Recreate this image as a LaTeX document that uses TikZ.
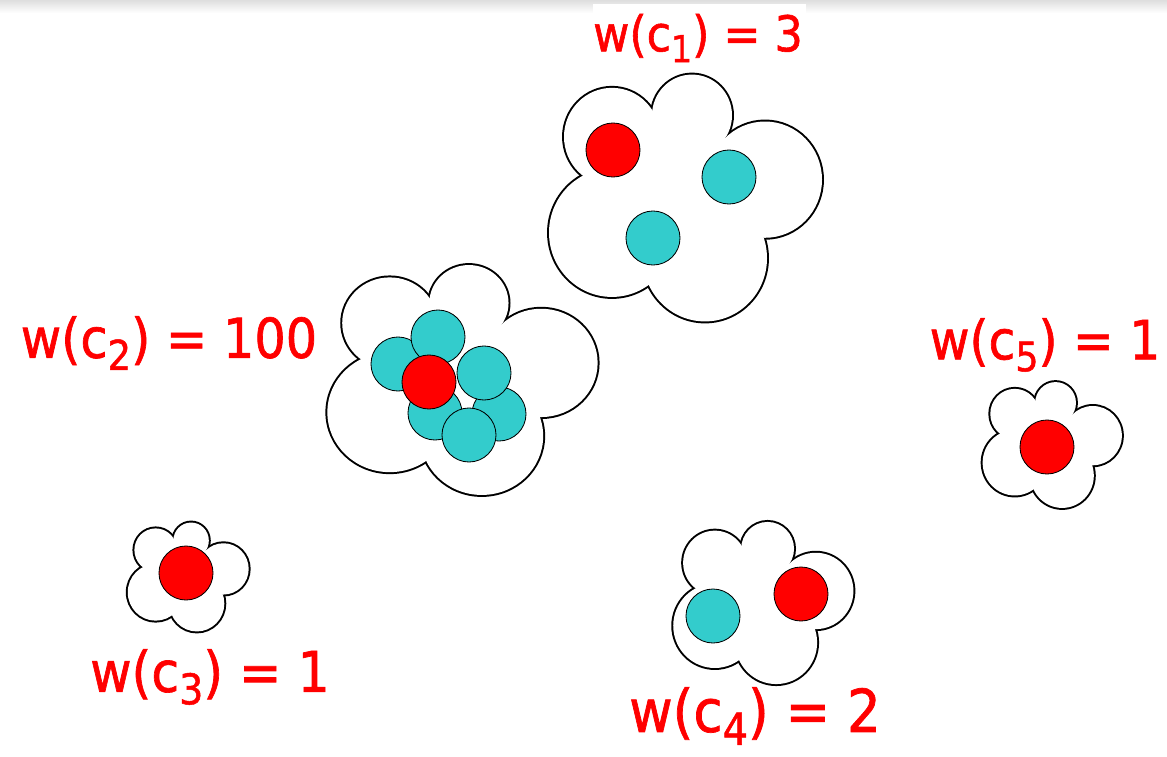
\documentclass[tikz,border=0pt]{standalone}
\usepackage{fontspec}
\setmainfont{DejaVu Sans Condensed}[FakeBold=1.2]
\usepackage{graphicx}
\usepackage{tikz}
\definecolor{dotred}{RGB}{255,0,0}
\definecolor{dotcyan}{RGB}{51,204,204}
\newcommand{\csub}[1]{\raisebox{-0.22em}{\scalebox{0.75}{#1}}}

\tikzset{
  pics/cloud/.style={code={
    \foreach \cx/\cy/\r in {7/-81/40,80/-18/57,20/59/62,-73/34/63,-73/-60/48}
      \draw[line width=2.8pt] (\cx,\cy) circle (\r);
    \foreach \cx/\cy/\r in {7/-81/40,80/-18/57,20/59/62,-73/34/63,-73/-60/48,0/0/70}
      \fill[white] (\cx,\cy) circle (\r);
  }}
}

\begin{document}
\begin{tikzpicture}[x=0.025cm, y=-0.025cm,
    dot/.style={circle, draw, line width=0.6pt, inner sep=0pt, minimum size=1.35cm},
    red dot/.style={dot, fill=dotred},
    cyan dot/.style={dot, fill=dotcyan},
    wlabel/.style={text=dotred, inner sep=0pt}]
    \useasboundingbox (0,0) rectangle (1167,757);
    \shade[top color=black!13, bottom color=white] (0,0) rectangle (1167,13);

    \pic[xscale=1.0, yscale=1.02] at (685,198) {cloud};
    \pic[xscale=0.99, yscale=0.95] at (462,380) {cloud};
    \pic[xscale=0.443, yscale=0.45] at (188,577) {cloud};
    \pic[xscale=0.66, yscale=0.67] at (763,603) {cloud};
    \pic[xscale=0.51, yscale=0.52] at (1052,445) {cloud};

    \node[red dot] (c1r) at (613,150) {};
    \node[cyan dot] (c1a) at (729,177) {};
    \node[cyan dot] (c1b) at (653,238) {};

    \node[cyan dot] (c2a) at (499,414) {};
    \node[cyan dot] (c2b) at (484,373) {};
    \node[cyan dot] (c2c) at (435,413) {};
    \node[cyan dot] (c2d) at (469,435) {};
    \node[cyan dot] (c2e) at (398,364) {};
    \node[cyan dot] (c2f) at (438,337) {};
    \node[red dot] (c2r) at (429,382) {};

    \node[red dot] (c3r) at (186,573) {};

    \node[cyan dot] (c4a) at (713,616) {};
    \node[red dot] (c4r) at (801,594) {};

    \node[red dot] (c5r) at (1047,447) {};

    \fill[white] (593,4) rectangle (806,40);
    \node[wlabel, font=\fontsize{35}{42}\selectfont] (w1) at (698,38) {w(c\csub{1}) = 3};
    \node[wlabel, font=\fontsize{39}{46}\selectfont] (w2) at (169,343) {w(c\csub{2}) = 100};
    \node[wlabel, font=\fontsize{40}{48}\selectfont] (w3) at (210,677) {w(c\csub{3}) = 1};
    \node[wlabel, font=\fontsize{42}{50}\selectfont] (w4) at (755,716) {w(c\csub{4}) = 2};
    \node[wlabel, font=\fontsize{38.5}{46}\selectfont] (w5) at (1045,345) {w(c\csub{5}) = 1};
\end{tikzpicture}
\end{document}
